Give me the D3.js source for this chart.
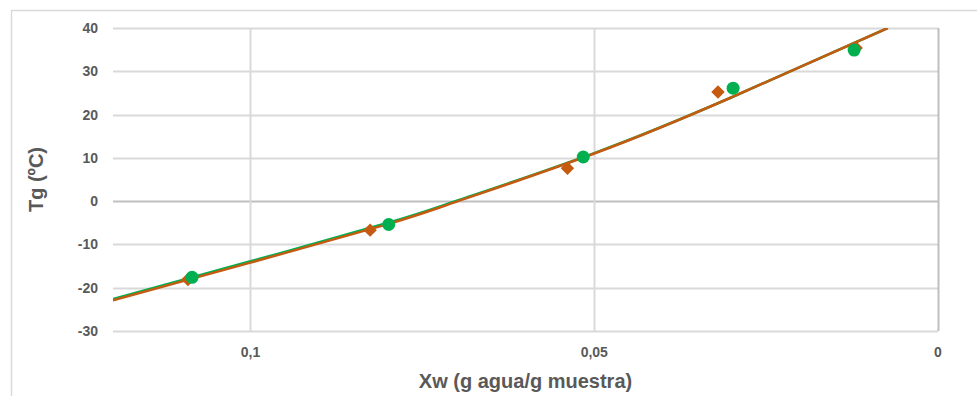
<!DOCTYPE html>
<html>
<head>
<meta charset="utf-8">
<script src="https://cdn.jsdelivr.net/npm/d3@7"></script>
<style>
  body { margin: 0; background: #fff; }
  svg { display: block; font-family: "Liberation Sans", Arial, sans-serif; }
</style>
</head>
<body>
<div id="chart"></div>
<script>
// Tg vs Xw - measured points and fitted curves

const xTicks = [0.1, 0.05, 0];
const yTicks = [-30, -20, -10, 0, 10, 20, 30, 40];

// measured points (series 1 - green circles)
const greenX = [0.1085, 0.0799, 0.0516, 0.0298, 0.0122];
const greenY = [-17.6, -5.4, 10.2, 26.1, 34.9];

// measured points (series 2 - orange diamonds)
const orangeX = [0.1091, 0.0826, 0.0539, 0.0320, 0.0119];
const orangeY = [-18.1, -6.7, 7.6, 25.2, 35.4];

// fitted curves
const fitGreenX = [0.1200, 0.1000, 0.0800, 0.0698, 0.0500, 0.0300, 0.0073];
const fitGreenY = [-22.6, -13.9, -5.0, 0.2, 11.1, 24.0, 40.0];
const fitOrangeX = [0.1200, 0.1000, 0.0800, 0.0698, 0.0500, 0.0300, 0.0073];
const fitOrangeY = [-22.9, -14.2, -5.3, 0.0, 11.0, 24.0, 40.0];

const width = 977, height = 396;
const margin = { left: 113, right: 39, top: 28, bottom: 65 };

const svg = d3.select("#chart").append("svg")
    .attr("width", width)
    .attr("height", height);

// chart frame (only top and left edges are visible)
svg.append("rect")
    .attr("x", 11.5).attr("y", 10.5)
    .attr("width", 1200).attr("height", 800)
    .attr("fill", "none")
    .attr("stroke", "#d9d9d9")
    .attr("stroke-width", 1.5);

const x = d3.scaleLinear()
    .domain([0.12, 0])
    .range([margin.left, width - margin.right]);

const y = d3.scaleLinear()
    .domain([-30, 40])
    .range([height - margin.bottom, margin.top]);

// horizontal gridlines
svg.append("g")
    .selectAll("line")
    .data(yTicks)
    .enter()
    .append("line")
    .attr("x1", margin.left)
    .attr("x2", width - margin.right)
    .attr("y1", d => Math.round(y(d)) + 0.5)
    .attr("y2", d => Math.round(y(d)) + 0.5)
    .attr("stroke", d => d === 0 ? "#bfbfbf" : "#d9d9d9")
    .attr("stroke-width", 2);

// vertical gridlines
svg.append("g")
    .selectAll("line")
    .data(xTicks)
    .enter()
    .append("line")
    .attr("x1", d => Math.round(x(d)) + 0.5)
    .attr("x2", d => Math.round(x(d)) + 0.5)
    .attr("y1", y(40))
    .attr("y2", y(-30))
    .attr("stroke", d => d === 0 ? "#bfbfbf" : "#d9d9d9")
    .attr("stroke-width", 2);

// y tick labels
svg.append("g")
    .selectAll("text")
    .data(yTicks)
    .enter()
    .append("text")
    .attr("x", margin.left - 15)
    .attr("y", d => y(d) + 5)
    .attr("text-anchor", "end")
    .style("font-size", "14px")
    .style("font-weight", "bold")
    .style("fill", "#595959")
    .text(d => d);

// x tick labels
const fmt = d => d === 0 ? "0" : String(d).replace(".", ",");
svg.append("g")
    .selectAll("text")
    .data(xTicks)
    .enter()
    .append("text")
    .attr("x", d => x(d))
    .attr("y", y(-30) + 26)
    .attr("text-anchor", "middle")
    .style("font-size", "14px")
    .style("font-weight", "bold")
    .style("fill", "#595959")
    .text(fmt);

// axis titles
svg.append("text")
    .attr("x", (margin.left + width - margin.right) / 2)
    .attr("y", 388)
    .attr("text-anchor", "middle")
    .style("font-size", "20px")
    .style("font-weight", "bold")
    .style("fill", "#595959")
    .text("Xw (g agua/g muestra)");

svg.append("text")
    .attr("transform", `translate(43, ${(y(40) + y(-30)) / 2}) rotate(-90)`)
    .attr("text-anchor", "middle")
    .style("font-size", "20px")
    .style("font-weight", "bold")
    .style("fill", "#595959")
    .text("Tg (ºC)");

// clip for fit curves
svg.append("defs").append("clipPath")
    .attr("id", "plot-clip")
    .append("rect")
    .attr("x", margin.left)
    .attr("y", margin.top)
    .attr("width", width - margin.left - margin.right)
    .attr("height", height - margin.top - margin.bottom);

const line = d3.line()
    .x(d => x(d[0]))
    .y(d => y(d[1]))
    .curve(d3.curveNatural);

const fitGreen = fitGreenX.map((v, i) => [v, fitGreenY[i]]);
const fitOrange = fitOrangeX.map((v, i) => [v, fitOrangeY[i]]);

const curves = svg.append("g").attr("clip-path", "url(#plot-clip)");

curves.append("path")
    .attr("d", line(fitGreen))
    .attr("fill", "none")
    .attr("stroke", "#00b050")
    .attr("stroke-width", 2.5);

curves.append("path")
    .attr("d", line(fitOrange))
    .attr("fill", "none")
    .attr("stroke", "#c55a11")
    .attr("stroke-width", 2.5);

// orange diamonds
const orangePts = orangeX.map((v, i) => [v, orangeY[i]]);
svg.append("g")
    .selectAll("path")
    .data(orangePts)
    .enter()
    .append("path")
    .attr("d", d3.symbol().type(d3.symbolSquare).size(90))
    .attr("transform", d => `translate(${x(d[0])}, ${y(d[1])}) rotate(45)`)
    .attr("fill", "#c55a11");

// green circles
const greenPts = greenX.map((v, i) => [v, greenY[i]]);
svg.append("g")
    .selectAll("circle")
    .data(greenPts)
    .enter()
    .append("circle")
    .attr("cx", d => x(d[0]))
    .attr("cy", d => y(d[1]))
    .attr("r", 6.5)
    .attr("fill", "#00b050");
</script>
</body>
</html>
